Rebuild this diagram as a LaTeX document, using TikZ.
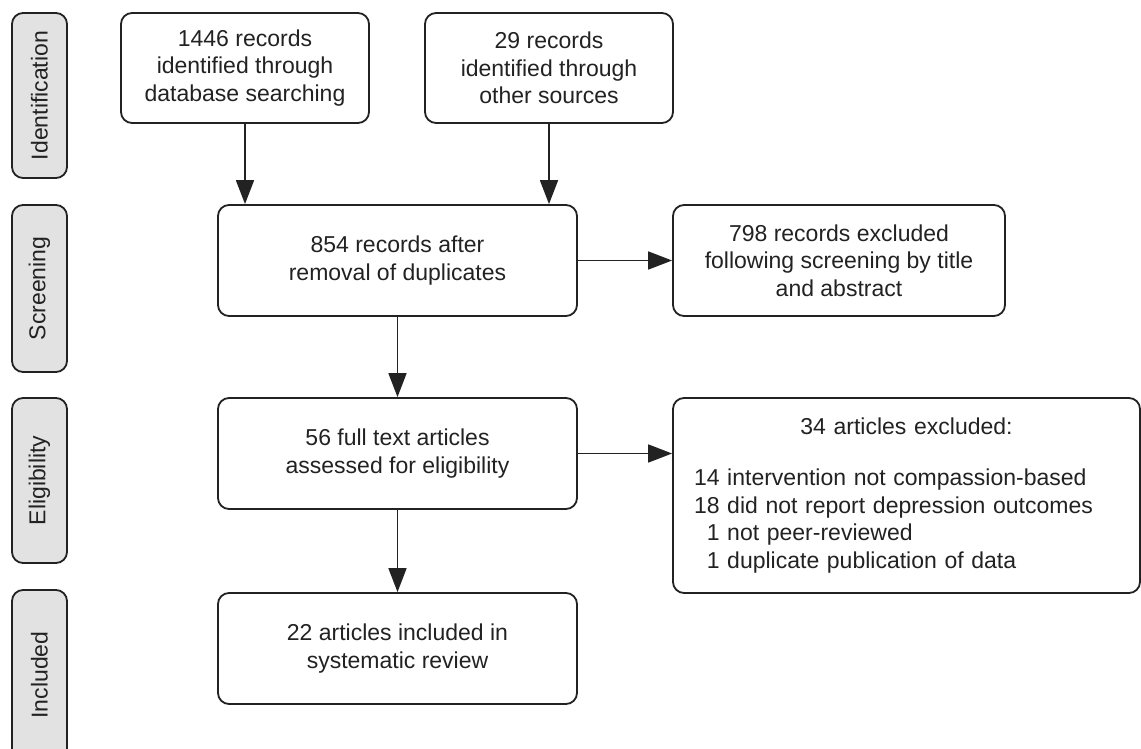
\documentclass[tikz,border=0pt]{standalone}
\usepackage{fontspec}
\setmainfont{Liberation Sans}
\usetikzlibrary{arrows.meta,calc}
\definecolor{ink}{HTML}{222222}
\definecolor{phasefill}{HTML}{E2E2E2}
\tikzset{
  box/.style={draw=ink, line width=1.8pt, rounded corners=11pt, fill=white,
    text=ink, align=center, inner sep=0pt,
    font=\fontsize{23}{27.5}\selectfont},
  phase/.style={draw=ink, line width=1.8pt, rounded corners=11pt, fill=phasefill,
    text=ink, inner sep=0pt, rotate=90,
    font=\fontsize{23}{27}\selectfont},
  flow/.style={draw=ink, line width=1.8pt,
    -{Triangle[length=24pt,width=18pt]}}
}
\begin{document}
\begin{tikzpicture}[x=1pt,y=-1pt]
\useasboundingbox (0,0) rectangle (1141,749);
\clip (0,0) rectangle (1141,749);

% phase labels on the left
\node[phase, minimum height=55pt, minimum width=165pt] (pid) at (39.5,95.5) {Identification};
\node[phase, minimum height=55pt, minimum width=167pt] (pscr) at (39.5,288.5) {Screening};
\node[phase, minimum height=55pt, minimum width=165pt] (pelig) at (39.5,480.5) {Eligibility};
\node[phase, minimum height=55pt, minimum width=170pt] (pincl) at (39.5,675) {Included};

% flow boxes
\node[box, minimum width=248pt, minimum height=110pt] (db) at (245,68)
  {1446 records\\identified through\\database searching};
\node[box, minimum width=248pt, minimum height=110pt] (other) at (549,68)
  {29 records\\identified through\\other sources};
\node[box, minimum width=359pt, minimum height=111pt] (dedup) at (397.5,260.5)
  {854 records after\\removal of duplicates};
\node[box, minimum width=332pt, minimum height=111pt] (scrx) at (839,260.5)
  {798 records excluded\\following screening by title\\and abstract};
\node[box, minimum width=467pt, minimum height=195pt, text width=425pt, align=left] (fullx) at (906.5,495.5)
  {\makebox[\linewidth][c]{34 articles excluded:}\\[24pt]
   14 intervention not compassion-based\\
   18 did not report depression outcomes\\
   \phantom{1}1 not peer-reviewed\\
   \phantom{1}1 duplicate publication of data};
\node[box, minimum width=359pt, minimum height=111pt] (full) at (397.5,453.5)
  {56 full text articles\\assessed for eligibility};
\node[box, minimum width=359pt, minimum height=111pt] (incl) at (397.5,648.5)
  {22 articles included in\\systematic review};

% connectors
\draw[flow] (db.south) -- (db.south |- dedup.north);
\draw[flow] (other.south) -- (other.south |- dedup.north);
\draw[flow] (dedup.east) -- (scrx.west);
\draw[flow] (dedup.south) -- (full.north);
\draw[flow] (full.east) -- (full.east -| fullx.west);
\draw[flow] (full.south) -- (incl.north);
\end{tikzpicture}
\end{document}
